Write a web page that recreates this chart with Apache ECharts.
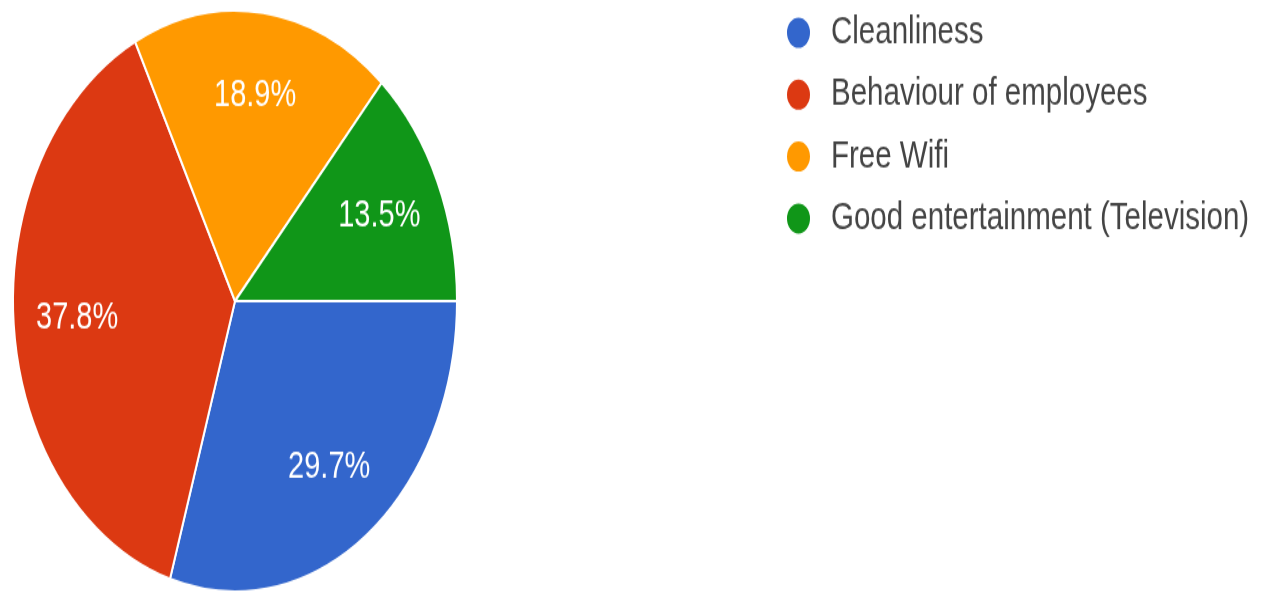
<!DOCTYPE html>
<html>
<head>
<meta charset="utf-8">
<script src="https://cdn.jsdelivr.net/npm/echarts@6/dist/echarts.min.js"></script>
<style>
  html, body { margin: 0; padding: 0; background: #fff; overflow: hidden; }
  #wrap { width: 1266px; height: 597px; overflow: hidden; }
  /* the chart is drawn on a shorter canvas and stretched vertically */
  #chart { width: 1266px; height: 456px; transform: scaleY(1.309); transform-origin: 0 0; }
</style>
</head>
<body>
<div id="wrap"><div id="chart"></div></div>
<script>
// Survey answers, share of respondents (%)
const categories = ['Cleanliness', 'Behaviour of employees', 'Free Wifi', 'Good entertainment (Television)'];
const shares = [29.7, 37.8, 18.9, 13.5];
const colors = ['#3366CC', '#DC3912', '#FF9900', '#109618'];

const pieData = categories.map((name, i) => ({ name, value: shares[i] }));
const FONT = '"Liberation Sans", Arial, sans-serif';
const R = 222;

const chart = echarts.init(document.getElementById('chart'));
chart.setOption({
  animation: false,
  color: colors,
  legend: {
    orient: 'vertical',
    left: 785,
    top: 10,
    padding: 0,
    icon: 'circle',
    itemWidth: 25,
    itemHeight: 25,
    itemGap: 17.3,
    data: categories,
    textStyle: {
      fontFamily: FONT,
      fontSize: 29.5,
      lineHeight: 30,
      color: '#444',
      padding: [0, 0, 0, 15]
    }
  },
  series: [
    {
      name: 'slices',
      type: 'pie',
      center: [235, 230],
      radius: [0, R],
      startAngle: 0,
      clockwise: true,
      avoidLabelOverlap: false,
      silent: true,
      itemStyle: { borderColor: '#fff', borderWidth: 2 },
      label: { show: false },
      labelLine: { show: false },
      data: pieData
    },
    {
      // transparent ring carrying the percentage labels at ~0.70 of the radius
      name: 'labels',
      type: 'pie',
      center: [235, 230],
      radius: [R * 0.40, R],
      startAngle: 0,
      clockwise: true,
      avoidLabelOverlap: false,
      silent: true,
      itemStyle: { color: 'rgba(0,0,0,0)', borderWidth: 0 },
      label: {
        show: true,
        position: 'inside',
        formatter: '{c}%',
        fontFamily: FONT,
        fontSize: 29,
        color: '#fff'
      },
      labelLine: { show: false },
      data: pieData
    }
  ]
});
</script>
</body>
</html>
